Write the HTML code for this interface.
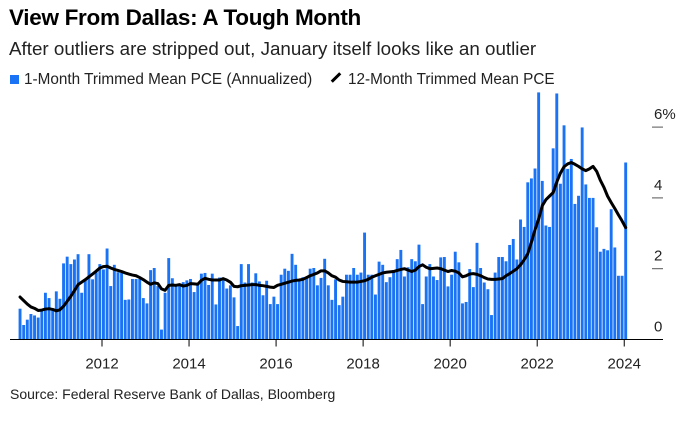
<!DOCTYPE html>
<html><head><meta charset="utf-8"><style>
body{margin:0;background:#fff;font-family:"Liberation Sans",Arial,sans-serif;}
#wrap{position:relative;width:684px;height:421px;overflow:hidden;}
.t{position:absolute;white-space:nowrap;color:#000;}
</style></head><body>
<div id="wrap">
<div class="t" style="left:9px;top:5px;font-size:22.5px;font-weight:bold;letter-spacing:-0.3px">View From Dallas: A Tough Month</div>
<div class="t" style="left:9px;top:38px;font-size:18.8px;color:#222">After outliers are stripped out, January itself looks like an outlier</div>
<div class="t" style="left:10px;top:71px;font-size:15.3px;color:#222"><span style="display:inline-block;width:9px;height:9px;background:#1a73f5;margin-right:5px"></span>1-Month Trimmed Mean PCE (Annualized)</div>
<div class="t" style="left:330px;top:71px;font-size:15.3px;color:#222"><span style="display:inline-block;width:12px;height:3px;background:#000;transform:rotate(-45deg);margin:0 6px 4px 0;vertical-align:middle"></span>12-Month Trimmed Mean PCE</div>
<div class="t" style="left:10px;top:386px;font-size:14px;color:#222">Source: Federal Reserve Bank of Dallas, Bloomberg</div>
<svg id="chart" width="684" height="421" style="position:absolute;left:0;top:0"></svg>
</div>
<script>
const startYear=2010, startMonth=1; // Feb 2010 (0-based month)
const barValues=[0.87,0.41,0.56,0.72,0.68,0.62,0.83,1.32,1.17,0.83,1.36,1.15,2.15,2.34,2.13,2.26,2.41,1.32,1.7,2.41,1.7,1.9,2.13,1.98,2.57,1.51,2.11,1.9,1.88,1.12,1.13,1.71,1.71,1.71,1.17,1.02,1.96,2.02,1.51,0.28,1.32,2.3,1.73,1.51,1.58,1.62,1.67,1.71,1.34,1.56,1.86,1.88,1.54,1.86,0.99,1.75,
1.68,1.44,1.53,1.19,0.38,2.13,1.61,2.13,1.61,1.87,1.64,1.25,1.66,1.0,1.21,1.0,1.83,2.0,1.94,2.42,2.11,1.7,1.76,1.74,2.0,2.02,1.53,1.74,2.28,1.53,1.12,1.7,0.97,1.21,1.83,1.83,2.02,1.83,1.89,3.02,1.83,1.83,1.27,2.2,2.11,1.62,1.76,1.96,2.27,2.53,1.78,2.04,2.27,2.21,2.68,1.0,1.78,2.13,1.78,1.68,2.32,
2.33,1.5,1.83,2.48,2.18,1.02,1.06,1.99,1.48,2.73,2.02,1.61,1.42,0.69,1.89,2.33,2.33,2.21,2.67,2.84,2.26,3.39,3.18,4.44,4.55,4.83,6.98,4.48,3.22,3.18,5.4,6.95,4.4,6.05,4.82,5.1,3.83,4.06,5.99,4.38,4.0,4.0,3.17,2.48,2.56,2.52,3.68,2.6,1.8,1.8,5.0];
const lineValues=[1.2,1.1,1.0,0.92,0.88,0.82,0.83,0.86,0.87,0.85,0.81,0.84,
0.94,1.08,1.22,1.38,1.55,1.62,1.69,1.77,1.85,1.93,2.02,2.06,
2.07,2.02,1.98,1.95,1.92,1.88,1.85,1.82,1.8,1.75,1.69,1.62,
1.56,1.6,1.58,1.43,1.39,1.53,1.54,1.53,1.55,1.51,1.53,1.58,
1.57,1.56,1.67,1.73,1.70,1.68,1.68,1.68,1.72,1.68,1.62,1.5,
1.49,1.52,1.53,1.54,1.55,1.55,1.53,1.52,1.50,1.48,1.47,1.53,
1.56,1.59,1.62,1.65,1.67,1.68,1.70,1.75,1.80,1.84,1.88,1.94,
1.94,1.88,1.80,1.76,1.68,1.64,1.63,1.62,1.62,1.62,1.64,1.66,
1.70,1.76,1.80,1.84,1.88,1.90,1.91,1.92,1.95,1.98,2.0,1.96,
1.92,1.96,2.06,2.11,2.04,2.0,2.01,2.02,2.0,1.96,1.92,1.95,
1.93,1.88,1.77,1.8,1.85,1.86,1.84,1.8,1.75,1.71,1.70,1.70,
1.71,1.72,1.80,1.86,1.93,2.0,2.11,2.25,2.42,2.75,3.1,3.4,
3.78,3.95,4.05,4.15,4.45,4.7,4.88,4.96,5.0,4.95,4.89,4.82,
4.77,4.82,4.89,4.75,4.5,4.3,4.05,3.87,3.7,3.52,3.35,3.16];
const yTicks=[0,2,4,6];
const yTickLabels=["0","2","4","6%"];
const xTicks=[2012,2014,2016,2018,2020,2022,2024];

const svg=document.getElementById('chart');
const NS='http://www.w3.org/2000/svg';
const x0=102, pxPerYear=43.52, y0=339.5, pxPerPct=35.4;
function xScale(t){return x0+(t-2012)*pxPerYear;}
function yScale(v){return y0-v*pxPerPct;}
function idxTime(i){return startYear+(startMonth+i)/12;}
function mk(tag,attrs){const e=document.createElementNS(NS,tag);for(const k in attrs)e.setAttribute(k,attrs[k]);svg.appendChild(e);return e;}

barValues.forEach((v,i)=>{
  const x=xScale(idxTime(i));
  const r=mk('rect',{x:x.toFixed(2),y:yScale(v).toFixed(2),width:2.9,height:(v*pxPerPct).toFixed(2),fill:'#1a73f5'});
  
  
});
let d='';
lineValues.forEach((v,i)=>{const x=xScale(idxTime(i))+1.45;d+=(i?'L':'M')+x.toFixed(2)+','+yScale(v).toFixed(2);});
const ln=mk('path',{d:d,fill:'none',stroke:'#000','stroke-width':3,'stroke-linejoin':'round','stroke-linecap':'round'});



const ax=mk('line',{x1:10,x2:663,y1:y0,y2:y0,stroke:'#000','stroke-width':1});


xTicks.forEach(t=>{
  const x=xScale(t);
  const tk=mk('line',{x1:x,x2:x,y1:y0,y2:y0+7,stroke:'#000','stroke-width':1});
  
  
  const tx=mk('text',{x:x,y:y0+29,'text-anchor':'middle','font-size':15,fill:'#222','font-family':'Liberation Sans, sans-serif'});
  tx.textContent=t;
  
  
});
yTicks.forEach((v,i)=>{
  const y=yScale(v);
  if(v>0){
    const tk=mk('line',{x1:652,x2:663,y1:y,y2:y,stroke:'#555','stroke-width':1});
    
    
  }
  const tx=mk('text',{x:654,y:y-8,'font-size':15,fill:'#222','font-family':'Liberation Sans, sans-serif'});
  tx.textContent=yTickLabels[i];
  
  
});
</script>
</body></html>
